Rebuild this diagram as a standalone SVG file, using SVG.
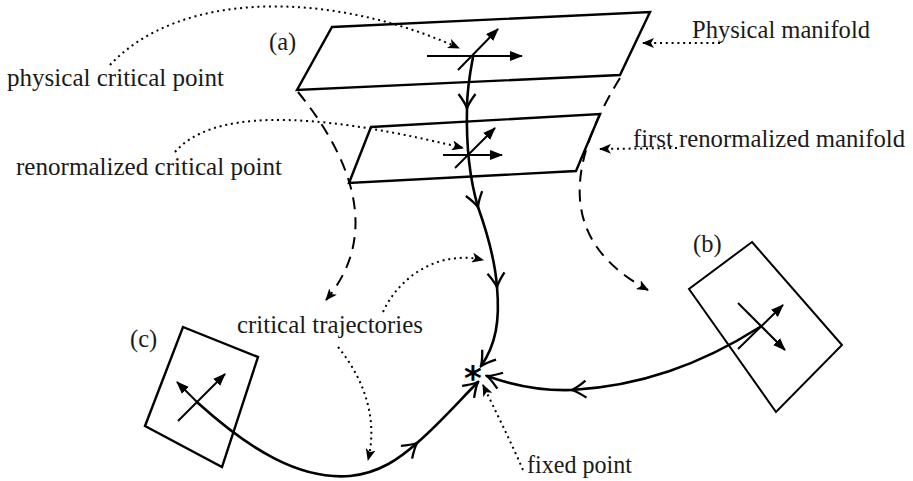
<svg xmlns="http://www.w3.org/2000/svg" width="913" height="481" viewBox="0 0 913 481">
<style>
text{font-family:"Liberation Serif","DejaVu Serif",serif;font-size:24.5px;fill:#1a1a1a}
.frame{fill:none;stroke:#000;stroke-width:2.4;stroke-linejoin:miter}
.box{fill:none;stroke:#000;stroke-width:2}
.vec{fill:none;stroke:#000;stroke-width:2;marker-end:url(#tri)}
.traj{fill:none;stroke:#000;stroke-width:2.6;stroke-linecap:round}
.dot{fill:none;stroke:#000;stroke-width:2;stroke-dasharray:2 3.8;marker-end:url(#stealth)}
.dash{fill:none;stroke:#000;stroke-width:2;stroke-dasharray:12 8;marker-end:url(#stealth)}
</style>
<defs>
<marker id="tri" viewBox="0 0 13 10" refX="12" refY="5" markerWidth="13" markerHeight="10" markerUnits="userSpaceOnUse" orient="auto"><path d="M0,0 L13,5 L0,10 z" fill="#000"/></marker>
<marker id="stealth" viewBox="0 0 12 10" refX="11" refY="5" markerWidth="12" markerHeight="10" markerUnits="userSpaceOnUse" orient="auto"><path d="M0,0 L12,5 L0,10 L3,5 z" fill="#000"/></marker>
<marker id="chev" viewBox="-16 -10 18 20" refX="0" refY="0" markerWidth="18" markerHeight="20" markerUnits="userSpaceOnUse" orient="auto"><path d="M-14,-8.5 Q-6,-2.5 0,0 Q-6,2.5 -14,8.5" fill="none" stroke="#000" stroke-width="2.3"/></marker>
</defs>

<g id="manifold-a">
<path class="frame" d="M332,27 L650,12 L620,75 L297,90 Z"/>
<path class="vec" d="M427,56 L522,56"/>
<path class="vec" d="M458,70 L498,29"/>
<text x="269" y="50">(a)</text>
</g>

<g id="manifold-renorm">
<path class="frame" d="M371,127 L600,114 L576,171 L349,183 Z"/>
<path class="vec" d="M443,155 L502,155"/>
<path class="vec" d="M455,168 L495,128"/>
</g>

<g id="box-b">
<path class="box" d="M752,242 L842,345 L776,412 L689,289 Z"/>
<path class="vec" d="M738,303 L785,350"/>
<path class="vec" d="M738,349 L783,305"/>
<text x="693" y="252">(b)</text>
</g>

<g id="box-c">
<path class="frame" d="M183,327 L258,357 L222,467 L145,426 Z"/>
<path class="vec" d="M178,421 L225,374"/>
<text x="130" y="347">(c)</text>
</g>

<g id="fixed-point">
<text x="473" y="390" text-anchor="middle" style="font-family:'DejaVu Sans',sans-serif;font-size:34px;font-weight:bold;fill:#000">*</text>
</g>

<g id="labels">
<text x="7" y="86" textLength="217" lengthAdjust="spacingAndGlyphs">physical critical point</text>
<text x="16" y="175" textLength="266" lengthAdjust="spacingAndGlyphs">renormalized critical point</text>
<text x="692" y="38" textLength="178" lengthAdjust="spacingAndGlyphs">Physical manifold</text>
<text x="633" y="147" textLength="272" lengthAdjust="spacingAndGlyphs">first renormalized manifold</text>
<text x="237" y="333" textLength="186" lengthAdjust="spacingAndGlyphs">critical trajectories</text>
<text x="527" y="473" textLength="105" lengthAdjust="spacingAndGlyphs">fixed point</text>
</g>

<g id="connectors">
<!-- main trajectory from (a) -->
<path class="traj" d="M473,57 C469,78 467,95 467,108" marker-end="url(#chev)"/>
<path class="traj" d="M467,108 C466,150 470,180 478,207" marker-end="url(#chev)"/>
<path class="traj" d="M478,207 C488,235 495,260 497,287" stroke-width="3.2" marker-end="url(#chev)"/>
<path class="traj" d="M497,287 C500,320 496,345 481,366" marker-end="url(#chev)"/>
<!-- trajectory from (b) -->
<path class="traj" d="M760,327 C700,365 640,386 572,390" stroke-width="3" marker-end="url(#chev)"/>
<path class="traj" d="M572,390 C540,391 512,385 487,376" marker-end="url(#chev)"/>
<!-- trajectory from (c) -->
<path class="vec" d="M199,404 L177,382" stroke-width="2.4"/>
<path class="traj" d="M198,403 C250,450 300,480 350,476 C380,473 400,458 417,443" stroke-width="3" marker-end="url(#chev)"/>
<path class="traj" d="M417,443 C440,423 460,400 478,382" marker-end="url(#chev)"/>
<!-- dashed renormalization flows -->
<path class="dash" d="M298,92 C345,150 385,230 326,300"/>
<path class="dash" d="M620,78 C560,175 565,245 648,290"/>
<!-- dotted label pointers -->
<path class="dot" d="M110,65 C180,-10 330,-10 459,48"/>
<path class="dot" d="M175,152 C210,112 300,108 463,148"/>
<path class="dot" d="M720,43 L643,43"/>
<path class="dot" d="M677,148 L600,149"/>
<path class="dot" d="M383,312 C400,275 440,250 483,260"/>
<path class="dot" d="M338,347 C365,380 378,420 368,460"/>
<path class="dot" d="M523,470 C510,440 495,410 483,385"/>
</g>
</svg>
